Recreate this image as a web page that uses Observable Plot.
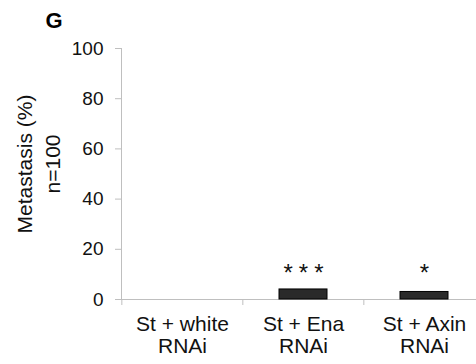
<!DOCTYPE html>
<html>
<head>
<meta charset="utf-8">
<script src="https://cdn.jsdelivr.net/npm/d3@7"></script>
<script src="https://cdn.jsdelivr.net/npm/@observablehq/plot@0.6"></script>
<style>
  html, body { margin: 0; padding: 0; background: #fff; }
  svg { font-family: "Liberation Sans", Arial, sans-serif; }
</style>
</head>
<body>
<div id="chart"></div>
<script>
const categories = ["St + white\nRNAi", "St + Ena\nRNAi", "St + Axin\nRNAi"];
const values = [0, 4, 3];
const stars = ["", "***", "*"];
const yTicks = [0, 20, 40, 60, 80, 100];
const panelLetter = "G";
const yTitle = "Metastasis (%)\nn=100";

const data = categories.map((c, i) => ({cat: c, value: values[i], star: stars[i]}));

const W = 476, H = 364;
const xRange = [121, 485];
const step = (xRange[1] - xRange[0]) / categories.length;
const axisColor = "#bfbfbf";
const textColor = "#111";

const chart = Plot.plot({
  width: W,
  height: H,
  marginLeft: 121,
  marginRight: 0,
  marginTop: 48,
  marginBottom: 65,
  style: {fontFamily: "Liberation Sans, Arial, sans-serif", background: "#fff"},
  x: {domain: categories, range: xRange, paddingInner: 0.6, paddingOuter: 0.3, label: null},
  y: {domain: [0, 100], label: null},
  marks: [
    Plot.frame({anchor: "left", stroke: axisColor}),
    Plot.ruleY([0], {stroke: axisColor}),
    Plot.axisY({ticks: yTicks, tickSize: 6, tickPadding: 12, stroke: axisColor, fill: textColor, fontSize: 19, label: null}),
    Plot.axisX({tickSize: 6, dx: -step / 2, stroke: axisColor, tickFormat: () => "", label: null}),
    Plot.axisX({tickSize: 0, tickPadding: 16, fill: textColor, fontSize: 21, lineHeight: 1.05, label: null}),
    Plot.barY(data, {x: "cat", y: "value", fill: "#2a2a2a", stroke: "#000", strokeWidth: 1}),
    Plot.text(data, {x: "cat", y: 0, text: "star", dy: -19, lineAnchor: "bottom", fontSize: 24, fill: textColor}),
    Plot.text([yTitle], {frameAnchor: "left", rotate: -90, dx: -84, dy: -10, textAnchor: "middle", fontSize: 21, lineHeight: 1.33, fill: textColor}),
    Plot.text([panelLetter], {frameAnchor: "top-left", dx: -76, dy: -21, textAnchor: "start", lineAnchor: "bottom", fontSize: 22, fontWeight: "bold", fill: "#000"})
  ]
});

d3.select(chart).selectAll("text").filter(function() { return this.textContent === "***"; })
  .attr("letter-spacing", "6px").attr("dx", "3px");

document.getElementById("chart").appendChild(chart);
</script>
</body>
</html>
